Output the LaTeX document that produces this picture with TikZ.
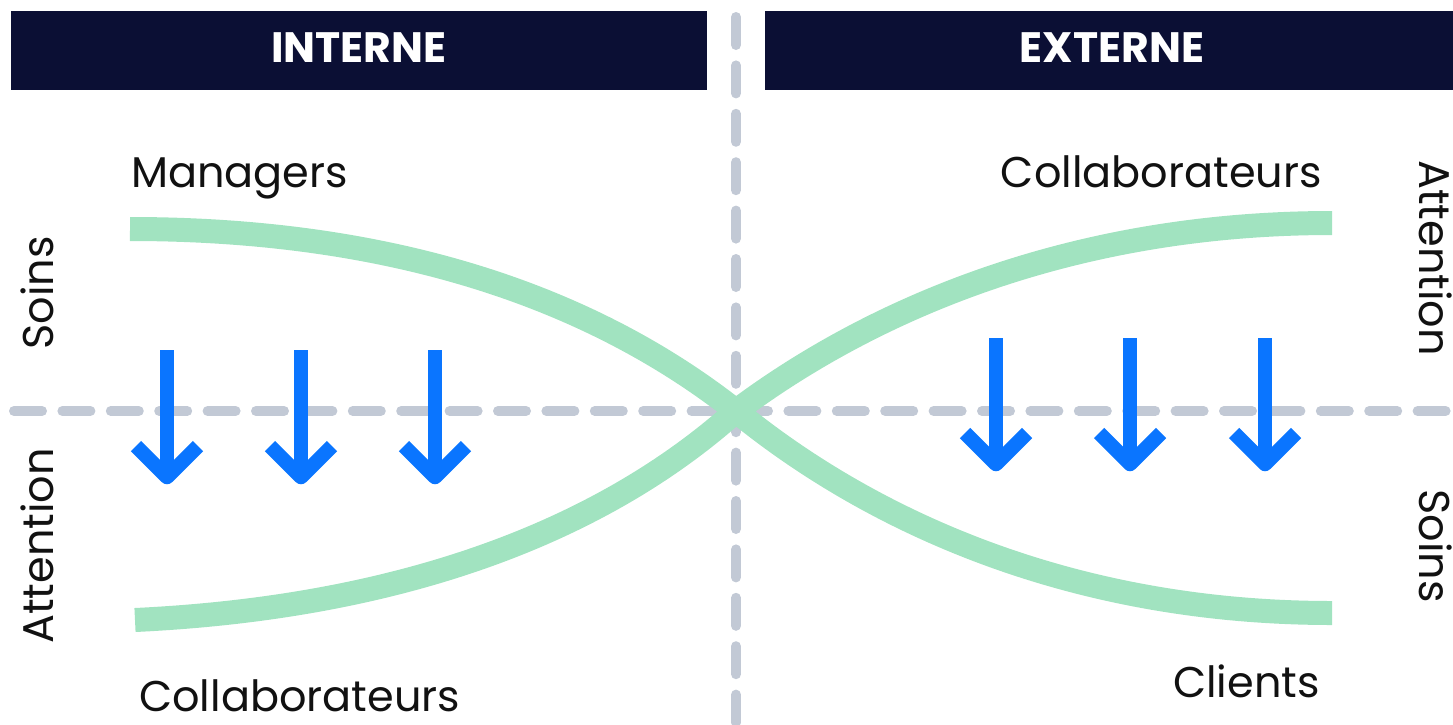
\documentclass[tikz,border=0pt]{standalone}
\usepackage{fontspec}
\setmainfont{Poppins}
\definecolor{navy}{RGB}{11,15,52}
\definecolor{mint}{RGB}{161,227,192}
\definecolor{gridgray}{RGB}{194,201,213}
\definecolor{arrowblue}{RGB}{10,117,255}
\definecolor{ink}{RGB}{17,17,17}
\begin{document}
\begin{tikzpicture}[x=1pt,y=-1pt,
  hdr/.style={fill=navy,draw=none,inner sep=0pt,minimum width=#1,minimum height=79pt},
  hdrtxt/.style={text=white,font=\bfseries\fontsize{42.5}{48}\selectfont,anchor=base,inner sep=0pt},
  lbl/.style={text=ink,font=\fontsize{43}{50}\selectfont,inner sep=0pt},
  gridline/.style={draw=gridgray,line width=10pt,line cap=round,dash pattern=on 28pt off 20.4pt},
  curve/.style={draw=mint,line width=24pt},
  shaft/.style={draw=arrowblue,line width=14pt},
  chev/.style={draw=arrowblue,line width=14.5pt,line join=round,line cap=butt}]
\useasboundingbox (0,0) rectangle (1453,724);
% headers
\node[hdr=696pt] (hL) at (359,50.5) {};
\node[hdr=688pt] (hR) at (1109,50.5) {};
\node[hdrtxt] (tL) at (359,62.5) {INTERNE};
\node[hdrtxt] (tR) at (1112,62.5) {EXTERNE};
% dashed axes
\coordinate (h0) at (14,411);
\coordinate (h1) at (1470,411);
\coordinate (v0) at (736,17);
\coordinate (v1) at (736,740);
\draw[gridline] (h0) -- (h1);
\draw[gridline] (v0) -- (v1);
% curves
\coordinate (X) at (736,411);
\coordinate (UL) at (130,229);
\coordinate (LR) at (1332,613);
\coordinate (LL) at (135,620);
\coordinate (UR) at (1332,223);
\draw[curve] (UL) .. controls (430,229) and (618,318) .. (X) .. controls (852,506) and (1050,613) .. (LR);
\draw[curve] (LL) .. controls (430,606) and (619,516) .. (X) .. controls (852,324) and (1050,223) .. (UR);
% arrows
\foreach \i/\x/\t/\v in {1/167/350/477,2/301/350/477,3/435/350/477,4/996/338/464,5/1130/338/464,6/1265/338/464}{
  \coordinate (a\i t) at (\x,\t);
  \coordinate (a\i v) at (\x,\v);
  \draw[shaft] (a\i t) -- (a\i v);
  \draw[chev] ([shift={(-31,-31)}]a\i v) -- (a\i v) -- ([shift={(31,-31)}]a\i v);
}
% labels
\node[lbl,anchor=base west] (mgr) at (131,187) {Managers};
\node[lbl,anchor=base east] (colT) at (1322,187) {Collaborateurs};
\node[lbl,anchor=base west] (colB) at (139,711) {Collaborateurs};
\node[lbl,anchor=base east] (cli) at (1320,697) {Clients};
\node[lbl,anchor=base,rotate=90] (soinsL) at (53,293) {Soins};
\node[lbl,anchor=base,rotate=90] (attL) at (53,546) {Attention};
\node[lbl,anchor=base,rotate=-90] (attR) at (1419,258) {Attention};
\node[lbl,anchor=base,rotate=-90] (soinsR) at (1419,546) {Soins};
\end{tikzpicture}
\end{document}
